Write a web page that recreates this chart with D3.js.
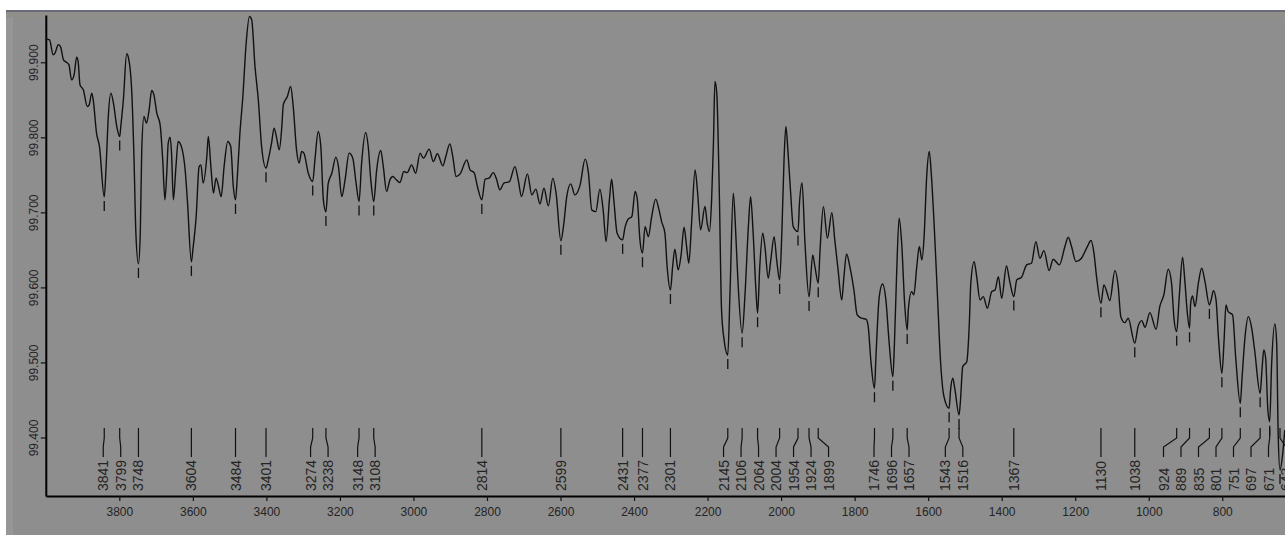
<!DOCTYPE html>
<html><head><meta charset="utf-8">
<script src="https://cdn.jsdelivr.net/npm/d3@7"></script>
<style>html,body{margin:0;padding:0;background:#fff;overflow:hidden}</style>
</head><body>
<svg id="c" width="1285" height="537"></svg>
<script>
const wavenumbers = [4000,3990,3980,3975,3966,3960,3952,3943,3937,3930,3923,3916,3912,3907,3898,3887,3882,3875,3871,3862,3854,3841,3836,3830,3823,3816,3807,3799,3796,3789,3780,3775,3766,3760,3755,3748,3743,3739,3733,3726,3719,3712,3706,3698,3689,3682,3676,3671,3667,3662,3658,3653,3646,3640,3630,3621,3615,3604,3600,3591,3583,3578,3572,3562,3558,3551,3544,3537,3531,3523,3515,3505,3497,3490,3484,3479,3472,3464,3455,3446,3440,3431,3422,3413,3401,3395,3386,3379,3372,3365,3358,3354,3343,3334,3327,3318,3311,3304,3298,3286,3274,3268,3259,3252,3245,3238,3232,3222,3211,3204,3195,3186,3175,3165,3156,3148,3141,3130,3123,3116,3108,3100,3089,3082,3073,3064,3056,3048,3037,3026,3017,3005,2994,2982,2973,2957,2946,2935,2920,2912,2901,2893,2884,2873,2855,2846,2835,2826,2814,2805,2794,2783,2774,2765,2754,2739,2724,2715,2706,2690,2678,2667,2656,2645,2633,2621,2612,2599,2592,2583,2572,2561,2547,2533,2524,2515,2504,2493,2484,2476,2467,2461,2455,2446,2431,2425,2416,2406,2397,2391,2384,2377,2370,2361,2352,2341,2332,2325,2316,2310,2301,2295,2289,2280,2272,2264,2257,2251,2243,2234,2227,2219,2207,2201,2195,2189,2184,2180,2175,2168,2162,2155,2145,2139,2130,2125,2118,2106,2098,2089,2083,2076,2068,2064,2058,2050,2044,2035,2028,2019,2012,2004,1998,1992,1987,1981,1974,1967,1954,1950,1943,1935,1924,1914,1908,1899,1894,1885,1874,1862,1854,1845,1835,1829,1822,1813,1802,1793,1781,1769,1763,1756,1746,1742,1733,1724,1715,1706,1696,1692,1686,1679,1672,1664,1657,1654,1645,1639,1631,1624,1617,1611,1604,1597,1591,1583,1575,1566,1557,1543,1539,1533,1527,1516,1512,1506,1495,1488,1484,1475,1468,1459,1450,1439,1427,1418,1409,1400,1387,1378,1367,1359,1346,1332,1319,1307,1296,1285,1271,1260,1243,1228,1219,1210,1198,1183,1167,1157,1149,1142,1130,1122,1113,1106,1092,1083,1076,1065,1056,1038,1029,1019,1010,997,980,970,959,947,938,931,924,917,908,902,895,889,886,881,874,865,856,847,835,830,824,817,810,801,795,790,784,772,763,751,746,738,729,720,712,697,692,687,682,676,671,666,657,652,648,643,636,630];
const transmittance = [99.9309,99.9300,99.9100,99.9122,99.9233,99.9210,99.9033,99.8997,99.8966,99.8766,99.8833,99.9069,99.9010,99.8700,99.8633,99.8410,99.8433,99.8589,99.8500,99.8056,99.7877,99.7206,99.7610,99.8277,99.8589,99.8456,99.8144,99.8010,99.8144,99.8500,99.9113,99.9056,99.8589,99.7700,99.6726,99.6313,99.6726,99.7833,99.8277,99.8189,99.8366,99.8624,99.8566,99.8322,99.8166,99.7700,99.7166,99.7522,99.7922,99.8002,99.7789,99.7166,99.7610,99.7944,99.7856,99.7566,99.7166,99.6340,99.6500,99.6944,99.7610,99.7633,99.7389,99.7744,99.8010,99.7610,99.7256,99.7456,99.7366,99.7210,99.7610,99.7944,99.7877,99.7344,99.7166,99.7477,99.8056,99.8544,99.9256,99.9610,99.9566,99.8944,99.8500,99.7877,99.7589,99.7700,99.7922,99.8122,99.7989,99.7833,99.8144,99.8433,99.8544,99.8677,99.8410,99.7833,99.7656,99.7810,99.7789,99.7522,99.7410,99.7700,99.8077,99.7877,99.7166,99.7006,99.7380,99.7522,99.7736,99.7610,99.7210,99.7433,99.7789,99.7722,99.7389,99.7144,99.7656,99.8064,99.7877,99.7433,99.7144,99.7566,99.7824,99.7610,99.7277,99.7433,99.7477,99.7442,99.7397,99.7544,99.7530,99.7633,99.7522,99.7789,99.7722,99.7842,99.7677,99.7780,99.7620,99.7744,99.7913,99.7744,99.7477,99.7513,99.7700,99.7566,99.7530,99.7344,99.7166,99.7442,99.7456,99.7530,99.7442,99.7300,99.7389,99.7410,99.7610,99.7433,99.7210,99.7513,99.7233,99.7309,99.7113,99.7322,99.7086,99.7456,99.7256,99.6620,99.6810,99.7210,99.7380,99.7233,99.7360,99.7709,99.7522,99.7033,99.7010,99.7309,99.7033,99.6610,99.7166,99.7442,99.7166,99.6722,99.6633,99.6789,99.6909,99.6944,99.7277,99.7166,99.6633,99.6456,99.6810,99.6677,99.6944,99.7176,99.7033,99.6877,99.6722,99.6277,99.5966,99.6277,99.6509,99.6233,99.6433,99.6802,99.6544,99.6322,99.6900,99.7566,99.7256,99.6766,99.7077,99.6856,99.6744,99.7166,99.7922,99.8744,99.8589,99.7256,99.5700,99.5300,99.5100,99.5922,99.7256,99.6900,99.6144,99.5389,99.5922,99.6810,99.7210,99.6722,99.5922,99.5656,99.6277,99.6722,99.6544,99.6122,99.6366,99.6677,99.6366,99.6100,99.6722,99.7700,99.8144,99.7789,99.7256,99.6810,99.6744,99.7122,99.7393,99.6589,99.5873,99.6433,99.6277,99.6056,99.6500,99.7077,99.6656,99.6997,99.6633,99.6233,99.5833,99.6144,99.6446,99.6277,99.5966,99.5633,99.5589,99.5576,99.5477,99.5033,99.4656,99.5077,99.5877,99.6046,99.5833,99.5256,99.4810,99.5210,99.6144,99.6922,99.6589,99.5789,99.5433,99.5700,99.5944,99.5900,99.6277,99.6544,99.6366,99.6677,99.7477,99.7810,99.7477,99.6766,99.5922,99.4989,99.4544,99.4389,99.4633,99.4789,99.4633,99.4300,99.4500,99.4944,99.5010,99.5522,99.6056,99.6344,99.6144,99.5833,99.5877,99.5722,99.5944,99.5966,99.6144,99.5856,99.6286,99.6077,99.5877,99.6100,99.6136,99.6300,99.6322,99.6610,99.6389,99.6490,99.6224,99.6376,99.6300,99.6544,99.6669,99.6544,99.6344,99.6389,99.6544,99.6624,99.6456,99.6144,99.5789,99.6033,99.5922,99.5824,99.6224,99.6010,99.5610,99.5530,99.5589,99.5256,99.5477,99.5557,99.5469,99.5664,99.5442,99.5744,99.5900,99.6242,99.6056,99.5566,99.5410,99.5877,99.6402,99.6100,99.5656,99.5456,99.5789,99.5886,99.5744,99.6056,99.6256,99.6077,99.5766,99.5840,99.5957,99.5833,99.5300,99.4856,99.5300,99.5766,99.5677,99.5633,99.5033,99.4456,99.4810,99.5344,99.5610,99.5456,99.5166,99.4589,99.4900,99.5166,99.5056,99.4366,99.4210,99.4944,99.5513,99.5256,99.4056,99.3566,99.3766,99.4100];
const peakLabels = [3841,3799,3748,3604,3484,3401,3274,3238,3148,3108,2814,2599,2431,2377,2301,2145,2106,2064,2004,1954,1924,1899,1746,1696,1657,1543,1516,1367,1130,1038,924,889,835,801,751,697,671,643];
const xTicks = [3800,3600,3400,3200,3000,2800,2600,2400,2200,2000,1800,1600,1400,1200,1000,800,600];
const yTicks = [99.4,99.5,99.6,99.7,99.8,99.9];

const W = 1285, H = 537;
const svg = d3.select('#c');

// panel background
svg.append('rect').attr('x',6).attr('y',10).attr('width',W-6).attr('height',525).attr('fill','#8e8e8e');
svg.append('rect').attr('x',6).attr('y',12).attr('width',7).attr('height',523).attr('fill','#969696');
svg.append('rect').attr('x',6).attr('y',12).attr('width',W-6).attr('height',6).attr('fill','#918f8c');
svg.append('rect').attr('x',6).attr('y',10).attr('width',W-6).attr('height',2).attr('fill','#676c76');

const x = d3.scaleLinear().domain([4000, 600]).range([45.8, 1295.8]);
const y = d3.scaleLinear().domain([99.322, 99.963]).range([496, 15]);

const txtCol = '#242424';
const font = '"Liberation Sans", Arial, sans-serif';

// x axis
const gx = svg.append('g').attr('transform','translate(0,496)')
  .call(d3.axisBottom(x).tickValues(xTicks).tickSize(5).tickSizeOuter(0).tickFormat(d3.format('d')));
gx.select('.domain').attr('stroke','#000').attr('stroke-width',2);
gx.selectAll('.tick line').attr('stroke','#111').attr('stroke-width',1.2);
gx.selectAll('.tick text').attr('y',11).attr('fill',txtCol).style('font-family',font).style('font-size','12px');

// y axis
const gy = svg.append('g').attr('transform','translate(45.8,0)')
  .call(d3.axisLeft(y).tickValues(yTicks).tickSize(5).tickSizeOuter(0).tickFormat(d3.format('.3f')));
gy.select('.domain').attr('stroke','#000').attr('stroke-width',2);
gy.selectAll('.tick line').attr('stroke','#111').attr('stroke-width',1.2);
gy.selectAll('.tick text')
  .attr('transform','rotate(-90)').attr('x',0).attr('y',-7.5).attr('dy',0)
  .attr('text-anchor','middle').attr('fill',txtCol)
  .style('font-family',font).style('font-size','12px');

// spectrum
const pts = wavenumbers.map((w,i)=>[w, transmittance[i]]);
svg.append('path').datum(pts)
  .attr('fill','none').attr('stroke','#111').attr('stroke-width',1.4).attr('stroke-linejoin','round')
  .attr('d', d3.line().x(d=>x(d[0])).y(d=>y(d[1])).curve(d3.curveMonotoneX));

// value of spectrum at wavenumber
function tAt(w){
  for (let i=0;i<wavenumbers.length-1;i++){
    const a=wavenumbers[i], b=wavenumbers[i+1];
    if (w<=a && w>=b){ const f=(a-w)/(a-b||1); return transmittance[i]+f*(transmittance[i+1]-transmittance[i]); }
  }
  return transmittance[transmittance.length-1];
}

// label positions (de-overlap)
const px = peakLabels.map(v=>x(v));
const lx = px.slice();
const gap = 17.5, rightLim = 1286;
for (let it=0; it<600; it++){
  for (let i=0;i<lx.length-1;i++){
    const d = lx[i+1]-lx[i];
    if (d < gap){ const s=(gap-d)/2; lx[i]-=s; lx[i+1]+=s; }
  }
  for (let i=0;i<lx.length;i++) if (lx[i]>rightLim) lx[i]=rightLim;
}

const g = svg.append('g');
peakLabels.forEach((v,i)=>{
  const p = px[i], l = lx[i];
  const ym = y(tAt(v));
  g.append('line').attr('x1',p).attr('x2',p).attr('y1',ym+4).attr('y2',ym+14)
    .attr('stroke','#111').attr('stroke-width',1.3);
  g.append('path').attr('d',`M${p},428L${p},438L${l},447L${l},457`)
    .attr('fill','none').attr('stroke','#111').attr('stroke-width',1.2);
  g.append('text').attr('transform',`translate(${l},491) rotate(-90)`)
    .attr('text-anchor','start').attr('dy','0.36em')
    .attr('fill',txtCol).style('font-family',font).style('font-size','14px')
    .text(v);
});
</script>
</body></html>
